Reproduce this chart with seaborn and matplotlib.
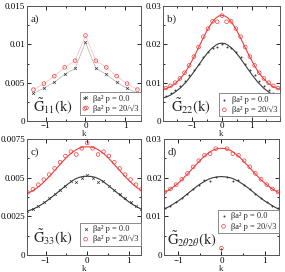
import numpy as np
import pandas as pd
import seaborn as sns
import matplotlib.pyplot as plt
from matplotlib.ticker import AutoMinorLocator, FuncFormatter, MultipleLocator

# ---- data (k >= 0 half, mirrored below) ----
# a) G11 : points joined by thin lines
k_a = [0.0, 0.262, 0.524, 0.785, 1.047, 1.309]
g11_p0 = [0.01025, 0.00685, 0.0061, 0.00506, 0.00428, 0.0036]
g11_p1 = [0.01115, 0.00787, 0.0070, 0.00585, 0.00488, 0.0041]

# b) G22 : points + smooth fit
k_b = [0.0, 0.157, 0.314, 0.471, 0.628, 0.785, 0.942, 1.100, 1.257, 1.414, 1.571, 1.728, 1.885]
g22_p0 = [0.0202, 0.0192, 0.0191, 0.0180, 0.0167, 0.0150, 0.0134, 0.0119, 0.0105, 0.0092, 0.0082, 0.0073, 0.0066]
g22_p1 = [0.0275, 0.0259, 0.0260, 0.0241, 0.0220, 0.0193, 0.0168, 0.0145, 0.0126, 0.0111, 0.0100, 0.0092, 0.0086]
k_fit_b = [0.0, 0.1, 0.2, 0.3, 0.4, 0.5, 0.6, 0.7, 0.8, 0.9, 1.0, 1.1, 1.2, 1.3, 1.4, 1.5, 1.6, 1.7, 1.8, 1.9, 2.0]
fit22_p0 = [0.0203, 0.0202, 0.0198, 0.0192, 0.0185, 0.0176, 0.0166, 0.0155, 0.0144, 0.0133, 0.0122,
            0.0112, 0.0102, 0.0094, 0.0086, 0.0080, 0.0074, 0.0069, 0.0065, 0.0062, 0.0060]
fit22_p1 = [0.0276, 0.0274, 0.0269, 0.0260, 0.0249, 0.0236, 0.0221, 0.0205, 0.0189, 0.0173, 0.0158,
            0.0144, 0.0131, 0.0120, 0.0111, 0.0103, 0.0096, 0.0091, 0.0087, 0.0084, 0.0082]

# c) G33
k_c = [0.0, 0.131, 0.262, 0.393, 0.524, 0.654, 0.785, 0.916, 1.047, 1.178, 1.309, 1.440]
g33_p0 = [0.00520, 0.00500, 0.00470, 0.00478, 0.00448, 0.00420, 0.00392, 0.00367, 0.00342, 0.00318, 0.00300, 0.00288]
g33_p1 = [0.00725, 0.00690, 0.00650, 0.00668, 0.00640, 0.00600, 0.00560, 0.00520, 0.00488, 0.00455, 0.00425, 0.00405]
k_fit_c = [0.0, 0.1, 0.2, 0.3, 0.4, 0.5, 0.6, 0.7, 0.8, 0.9, 1.0, 1.1, 1.2, 1.3, 1.4, 1.5]
fit33_p0 = [0.00510, 0.00508, 0.00502, 0.00490, 0.00472, 0.00452, 0.00430, 0.00408, 0.00386, 0.00365,
            0.00345, 0.00327, 0.00311, 0.00298, 0.00288, 0.00280]
fit33_p1 = [0.00700, 0.00698, 0.00690, 0.00675, 0.00655, 0.00630, 0.00602, 0.00572, 0.00542, 0.00512,
            0.00484, 0.00458, 0.00436, 0.00418, 0.00404, 0.00394]

# d) G2θ2θ (k = 0 point is off the curve)
k_d = [0.131, 0.262, 0.393, 0.524, 0.654, 0.785, 0.916, 1.047, 1.178, 1.309, 1.440]
g2t_p0 = [0.0203, 0.0192, 0.0193, 0.0182, 0.0171, 0.0159, 0.0147, 0.0137, 0.0128, 0.0122, 0.0116]
g2t_p1 = [0.0275, 0.0262, 0.0258, 0.0244, 0.0228, 0.0211, 0.0196, 0.0182, 0.0171, 0.0163, 0.0160]
g2t_k0 = [0.0016, 0.0018]
k_fit_d = [0.0, 0.1, 0.2, 0.3, 0.4, 0.5, 0.6, 0.7, 0.8, 0.9, 1.0, 1.1, 1.2, 1.3, 1.4]
fit2t_p0 = [0.0203, 0.0202, 0.0200, 0.0196, 0.0190, 0.0183, 0.0175, 0.0166, 0.0157, 0.0148, 0.0140,
            0.0133, 0.0126, 0.0120, 0.0116]
fit2t_p1 = [0.0276, 0.0275, 0.0271, 0.0264, 0.0255, 0.0244, 0.0232, 0.0220, 0.0208, 0.0196, 0.0186,
            0.0177, 0.0169, 0.0163, 0.0159]

lab0 = "βa² p = 0.0"
lab1 = "βa² p = 20/√3"
RED = "#f03c3c"
DARK = "#3a3a3a"


def mirror(k, v):
    # data is symmetric in k, only one half was read
    if k[0] == 0.0:
        return [-x for x in k[:0:-1]] + list(k), list(v[:0:-1]) + list(v)
    return [-x for x in k[::-1]] + list(k), list(v[::-1]) + list(v)


sns.set_theme(style="ticks")
plt.rcParams['font.family'] = ['Liberation Serif', 'DejaVu Serif']
plt.rcParams['mathtext.fontset'] = 'stix'

fig = plt.figure(figsize=(2.85, 2.72), dpi=100)
pos = {"a": [0.095, 0.555, 0.40, 0.423], "b": [0.572, 0.555, 0.410, 0.423],
       "c": [0.095, 0.062, 0.40, 0.427], "d": [0.575, 0.062, 0.404, 0.427]}
axs = {key: fig.add_axes(p) for key, p in pos.items()}


def points(ax, k, v0, v1, m0):
    x0, y0 = mirror(k, v0)
    x1, y1 = mirror(k, v1)
    if m0 == "x":
        sns.scatterplot(x=x0, y=y0, marker="x", color=DARK, s=4, linewidth=0.5,
                        ax=ax, label=lab0, zorder=3)
    else:
        sns.scatterplot(x=x0, y=y0, marker="o", color=DARK, s=2, linewidth=0,
                        ax=ax, label=lab0, zorder=3)
    sns.scatterplot(x=x1, y=y1, marker="o", facecolors="none", edgecolors=RED, s=7,
                    linewidth=0.5, ax=ax, label=lab1, zorder=3)


def fit(ax, k, f0, f1):
    x0, y0 = mirror(k, f0)
    x1, y1 = mirror(k, f1)
    sns.lineplot(x=x0, y=y0, color=DARK, lw=0.8, ax=ax, sort=False)
    sns.lineplot(x=x1, y=y1, color=RED, lw=0.8, ax=ax, sort=False)


# a)
ax = axs["a"]
xa0, ya0 = mirror(k_a, g11_p0)
xa1, ya1 = mirror(k_a, g11_p1)
sns.lineplot(x=xa0, y=ya0, color="#b0b0b0", lw=0.5, ax=ax, sort=False)
sns.lineplot(x=xa1, y=ya1, color="#ffb4b4", lw=0.5, ax=ax, sort=False)
points(ax, k_a, g11_p0, g11_p1, "x")
ax.set_xlim(-1.47, 1.4)
ax.set_ylim(0, 0.015)
ax.yaxis.set_major_locator(MultipleLocator(0.005))

# b)
ax = axs["b"]
fit(ax, k_fit_b, fit22_p0, fit22_p1)
points(ax, k_b, g22_p0, g22_p1, ".")
ax.set_xlim(-1.98, 1.95)
ax.set_ylim(0, 0.03)
ax.yaxis.set_major_locator(MultipleLocator(0.01))

# c)
ax = axs["c"]
fit(ax, k_fit_c, fit33_p0, fit33_p1)
points(ax, k_c, g33_p0, g33_p1, "x")
ax.set_xlim(-1.45, 1.3)
ax.set_ylim(0, 0.0075)
ax.yaxis.set_major_locator(MultipleLocator(0.0025))

# d)
ax = axs["d"]
fit(ax, k_fit_d, fit2t_p0, fit2t_p1)
points(ax, k_d, g2t_p0, g2t_p1, ".")
sns.scatterplot(x=[0.0], y=[g2t_k0[1]], marker="o", facecolors="none", edgecolors=RED,
                s=7, linewidth=0.5, ax=ax, zorder=3)
sns.scatterplot(x=[0.0], y=[g2t_k0[0]], marker="o", color=DARK, s=2, linewidth=0, ax=ax, zorder=4)
ax.set_xlim(-1.33, 1.33)
ax.set_ylim(0, 0.03)
ax.yaxis.set_major_locator(MultipleLocator(0.01))

names = {"a": r"$\tilde{\mathrm{G}}_{11}(\mathrm{k})$", "b": r"$\tilde{\mathrm{G}}_{22}(\mathrm{k})$",
         "c": r"$\tilde{\mathrm{G}}_{33}(\mathrm{k})$", "d": r"$\tilde{\mathrm{G}}_{2\theta2\theta}(\mathrm{k})$"}
name_xy = {"a": (0.05, 0.12), "b": (0.07, 0.12), "c": (0.05, 0.15), "d": (0.03, 0.13)}
leg_y = {"a": 0.05, "b": 0.04, "c": 0.08, "d": 0.19}

for key, ax in axs.items():
    ax.xaxis.set_major_locator(MultipleLocator(1))
    ax.xaxis.set_minor_locator(AutoMinorLocator(2))
    ax.yaxis.set_minor_locator(AutoMinorLocator(2))
    ax.yaxis.set_major_formatter(FuncFormatter(lambda v, p: "%g" % round(v, 6)))
    ax.tick_params(which="both", direction="in", top=True, right=True, labelsize=6.5,
                   width=0.6, pad=1.5, colors="black")
    ax.tick_params(axis="x", pad=1)
    ax.tick_params(which="major", length=3)
    ax.tick_params(which="minor", length=1.5)
    for s in ax.spines.values():
        s.set_linewidth(0.7)
        s.set_color("#555555")
    ax.set_xlabel("k", fontsize=6.5, labelpad=0)
    ax.set_ylabel("")
    ax.text(0.035, 0.93, key + ")", transform=ax.transAxes, fontsize=8, va="top", ha="left")
    ax.text(name_xy[key][0], name_xy[key][1], names[key], transform=ax.transAxes,
            fontsize=10.5, va="center", ha="left")
    leg = ax.legend(loc="lower right", bbox_to_anchor=(1.0, leg_y[key]), fontsize=6,
                    frameon=True, fancybox=False, edgecolor="#777777", framealpha=1,
                    handlelength=0.8, handletextpad=0.5, borderpad=0.3, labelspacing=0.2,
                    borderaxespad=0, scatterpoints=2 if key == "a" else 1)
    leg.get_frame().set_linewidth(0.6)

fig.savefig("out.png", dpi=100)
